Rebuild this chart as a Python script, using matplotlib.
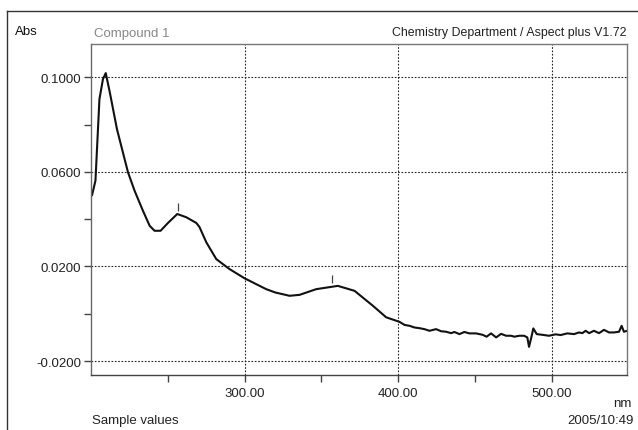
import matplotlib
matplotlib.use('Agg')
import matplotlib.pyplot as plt
from matplotlib.lines import Line2D
from matplotlib.ticker import FixedLocator, FormatStrFormatter

plt.rcParams['font.family'] = ['Liberation Sans', 'DejaVu Sans']

# spectrum (nm, Abs)
wavelength = [200.7, 202.9, 205.5, 207.8, 209.6, 212.2, 216.9, 220.2, 224.1, 228.4,
              233.8, 238.2, 241.4, 245.3, 250.1, 256.2, 262.1, 268.6, 270.7, 275.1,
              281.6, 290.2, 300.0, 314.1, 320.0, 329.3, 335.8, 346.6, 360.7, 371.6,
              383.5, 392.2, 400.8, 404.1, 407.4, 410.6, 413.9, 417.1, 420.4, 424.7,
              428.0, 431.2, 434.5, 436.6, 439.9, 443.1, 446.4, 450.7, 455.0, 457.6,
              460.5, 463.8, 467.0, 470.3, 473.5, 475.7, 478.9, 482.0, 484.1, 485.2,
              486.7, 488.0, 490.2, 493.9, 498.2, 502.5, 505.8, 510.1, 514.5, 517.8,
              519.9, 522.1, 524.3, 527.5, 530.8, 534.0, 537.3, 540.5, 543.8, 545.5,
              547.0, 549.2]
absorbance = [0.0502, 0.0563, 0.0908, 0.0993, 0.1018, 0.0938, 0.0781, 0.0697, 0.0598, 0.0520,
              0.0436, 0.0372, 0.0351, 0.0351, 0.0384, 0.0422, 0.0408, 0.0384, 0.0366, 0.0302,
              0.0231, 0.0189, 0.0150, 0.0104, 0.0090, 0.0076, 0.0080, 0.0104, 0.0118, 0.0097,
              0.0034, -0.0015, -0.0034, -0.0047, -0.0051, -0.0058, -0.0061, -0.0065, -0.0072, -0.0065,
              -0.0074, -0.0076, -0.0082, -0.0077, -0.0086, -0.0077, -0.0083, -0.0083, -0.0089, -0.0097,
              -0.0083, -0.0100, -0.0085, -0.0093, -0.0093, -0.0097, -0.0093, -0.0093, -0.0100, -0.0140,
              -0.0100, -0.0062, -0.0086, -0.0089, -0.0093, -0.0087, -0.0090, -0.0083, -0.0086, -0.0079,
              -0.0082, -0.0072, -0.0082, -0.0072, -0.0082, -0.0068, -0.0079, -0.0079, -0.0076, -0.0051,
              -0.0076, -0.0072]

peak_nm = [256.5, 357.0]
peak_abs = [0.0453, 0.0146]

y_major = [-0.02, 0.02, 0.06, 0.10]
y_minor = [0.0, 0.04, 0.08]
x_major = [300, 400, 500]
x_minor = [250, 350, 450]

fig = plt.figure(figsize=(6.38, 4.31), dpi=100)
ax = fig.add_axes([91/638, 1 - 376/431, 536/638, 331/431])

ax.plot(wavelength, absorbance, color='#111111', lw=1.5)
ax.plot(peak_nm, peak_abs, linestyle='none', marker='|', markersize=6,
        color='#444444', markeredgewidth=0.9)

ax.set_xlim(200, 549)
ax.set_ylim(-0.0259, 0.1141)

ax.xaxis.set_major_locator(FixedLocator(x_major))
ax.xaxis.set_minor_locator(FixedLocator(x_minor))
ax.yaxis.set_major_locator(FixedLocator(y_major))
ax.yaxis.set_minor_locator(FixedLocator(y_minor))
ax.xaxis.set_major_formatter(FormatStrFormatter('%.2f'))
ax.yaxis.set_major_formatter(FormatStrFormatter('%.4f'))

ax.grid(which='major', linestyle=(0, (1.5, 1.5)), color='#222222', linewidth=0.8)
ax.tick_params(which='both', direction='out', length=5, width=1, color='#444444',
               labelsize=9.5, labelcolor='#222222')
ax.tick_params(axis='x', pad=4)
ax.tick_params(axis='y', pad=2)
for s in ax.spines.values():
    s.set_color('#777777')
    s.set_linewidth(1)
ax.spines['bottom'].set_color('#444444')
ax.spines['left'].set_color('#666666')

# header / footer texts
fig.text(15/638, 1 - 32/431, 'Abs', fontsize=9.5, va='center', ha='left', color='#111111')
fig.text(94/638, 1 - 34/431, 'Compound 1', fontsize=9.5, va='center', ha='left', color='#888888')
fig.text(627/638, 1 - 33/431, 'Chemistry Department / Aspect plus V1.72', fontsize=8.9,
         va='center', ha='right', color='#222222')
fig.text(632/638, 1 - 404/431, 'nm', fontsize=9.5, va='center', ha='right', color='#222222')
fig.text(92/638, 1 - 421/431, 'Sample values', fontsize=9.5, va='center', ha='left', color='#222222')
fig.text(634/638, 1 - 421/431, '2005/10:49', fontsize=9.5, va='center', ha='right', color='#222222')

# outer frame
fig.add_artist(Line2D([7/638, 7/638], [0, 1 - 12/431], transform=fig.transFigure,
                      color='#333333', lw=1))
fig.add_artist(Line2D([7/638, 1], [1 - 12/431, 1 - 12/431], transform=fig.transFigure,
                      color='#333333', lw=1))

fig.savefig('out.png', dpi=100)
